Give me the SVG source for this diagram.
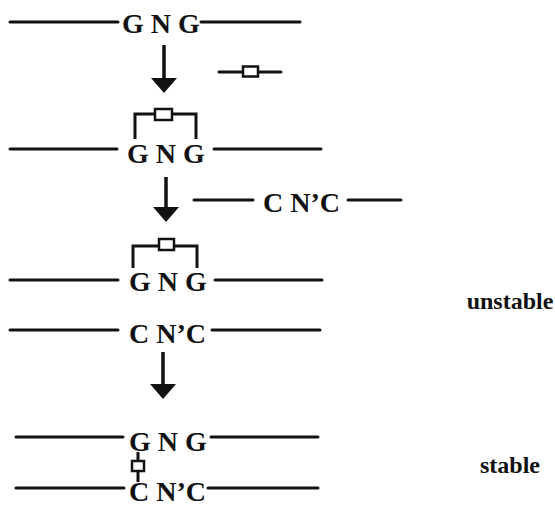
<svg xmlns="http://www.w3.org/2000/svg" width="555" height="507" viewBox="0 0 555 507">
  <defs>
    <style>
      .strand { stroke: #111; stroke-width: 3; stroke-linecap: round; fill: none; }
      .link { stroke: #111; stroke-width: 3; fill: none; }
      .box { stroke: #111; stroke-width: 2.5; fill: #fff; }
      .seq { font-family: "Liberation Serif", "Times New Roman", serif; font-weight: bold; font-size: 28px; fill: #111; }
      .label { font-family: "Liberation Serif", "Times New Roman", serif; font-weight: bold; font-size: 24px; fill: #111; text-anchor: middle; }
      .shaft { stroke: #111; stroke-width: 3.5; }
      .head { fill: #111; }
    </style>
  </defs>
  <rect width="555" height="507" fill="#fff"/>

  <!-- step 1: free duplex strand and free cross-linker -->
  <g id="strand1">
    <line class="strand" x1="10" y1="22" x2="118" y2="22"/>
    <text class="seq" x="122" y="33">G N G</text>
    <line class="strand" x1="201" y1="22" x2="300" y2="22"/>
  </g>
  <g id="linker">
    <line class="strand" x1="219" y1="72" x2="281" y2="72"/>
    <rect class="box" x="243" y="66.5" width="15" height="10"/>
  </g>

  <!-- step 2: intrastrand adduct -->
  <g id="strand2">
    <line class="strand" x1="10" y1="149" x2="117" y2="149"/>
    <text class="seq" x="127" y="163">G N G</text>
    <line class="strand" x1="214" y1="149" x2="321" y2="149"/>
    <path class="link" d="M135,139 V114 H196 V139"/>
    <rect class="box" x="155" y="109" width="17" height="11"/>
  </g>
  <g id="complement">
    <line class="strand" x1="194" y1="200" x2="253" y2="200"/>
    <text class="seq" x="263" y="212">C N’C</text>
    <line class="strand" x1="348" y1="200" x2="401" y2="200"/>
  </g>

  <!-- step 3: duplex with intrastrand adduct -->
  <g id="strand3">
    <line class="strand" x1="10" y1="280" x2="118" y2="280"/>
    <text class="seq" x="129" y="291">G N G</text>
    <line class="strand" x1="215" y1="280" x2="322" y2="280"/>
    <path class="link" d="M133,268 V246 H197 V268"/>
    <rect class="box" x="159" y="239" width="15" height="11"/>
  </g>
  <g id="strand4">
    <line class="strand" x1="10" y1="330" x2="118" y2="330"/>
    <text class="seq" x="129" y="343">C N’C</text>
    <line class="strand" x1="212" y1="330" x2="320" y2="330"/>
  </g>
  <g id="label-unstable">
    <text class="label" x="510" y="309">unstable</text>
  </g>

  <!-- step 4: interstrand cross-link -->
  <g id="strand5">
    <line class="strand" x1="16" y1="437" x2="123" y2="437"/>
    <text class="seq" x="129" y="451">G N G</text>
    <line class="strand" x1="211" y1="437" x2="318" y2="437"/>
  </g>
  <g id="crosslink">
    <line class="link" x1="138" y1="452" x2="138" y2="482"/>
    <rect class="box" x="132" y="461" width="12" height="10"/>
  </g>
  <g id="strand6">
    <line class="strand" x1="16" y1="488" x2="124" y2="488"/>
    <text class="seq" x="129" y="501">C N’C</text>
    <line class="strand" x1="208" y1="488" x2="318" y2="488"/>
  </g>
  <g id="label-stable">
    <text class="label" x="510" y="473">stable</text>
  </g>

  <!-- reaction arrows -->
  <g id="connectors">
    <line class="shaft" x1="164" y1="45" x2="164" y2="80"/>
    <polygon class="head" points="151,78 177,78 164,93"/>
    <line class="shaft" x1="166" y1="177" x2="166" y2="209"/>
    <polygon class="head" points="153,207 179,207 166,222"/>
    <line class="shaft" x1="163" y1="352" x2="163" y2="386"/>
    <polygon class="head" points="150,384 176,384 163,399"/>
  </g>
</svg>
